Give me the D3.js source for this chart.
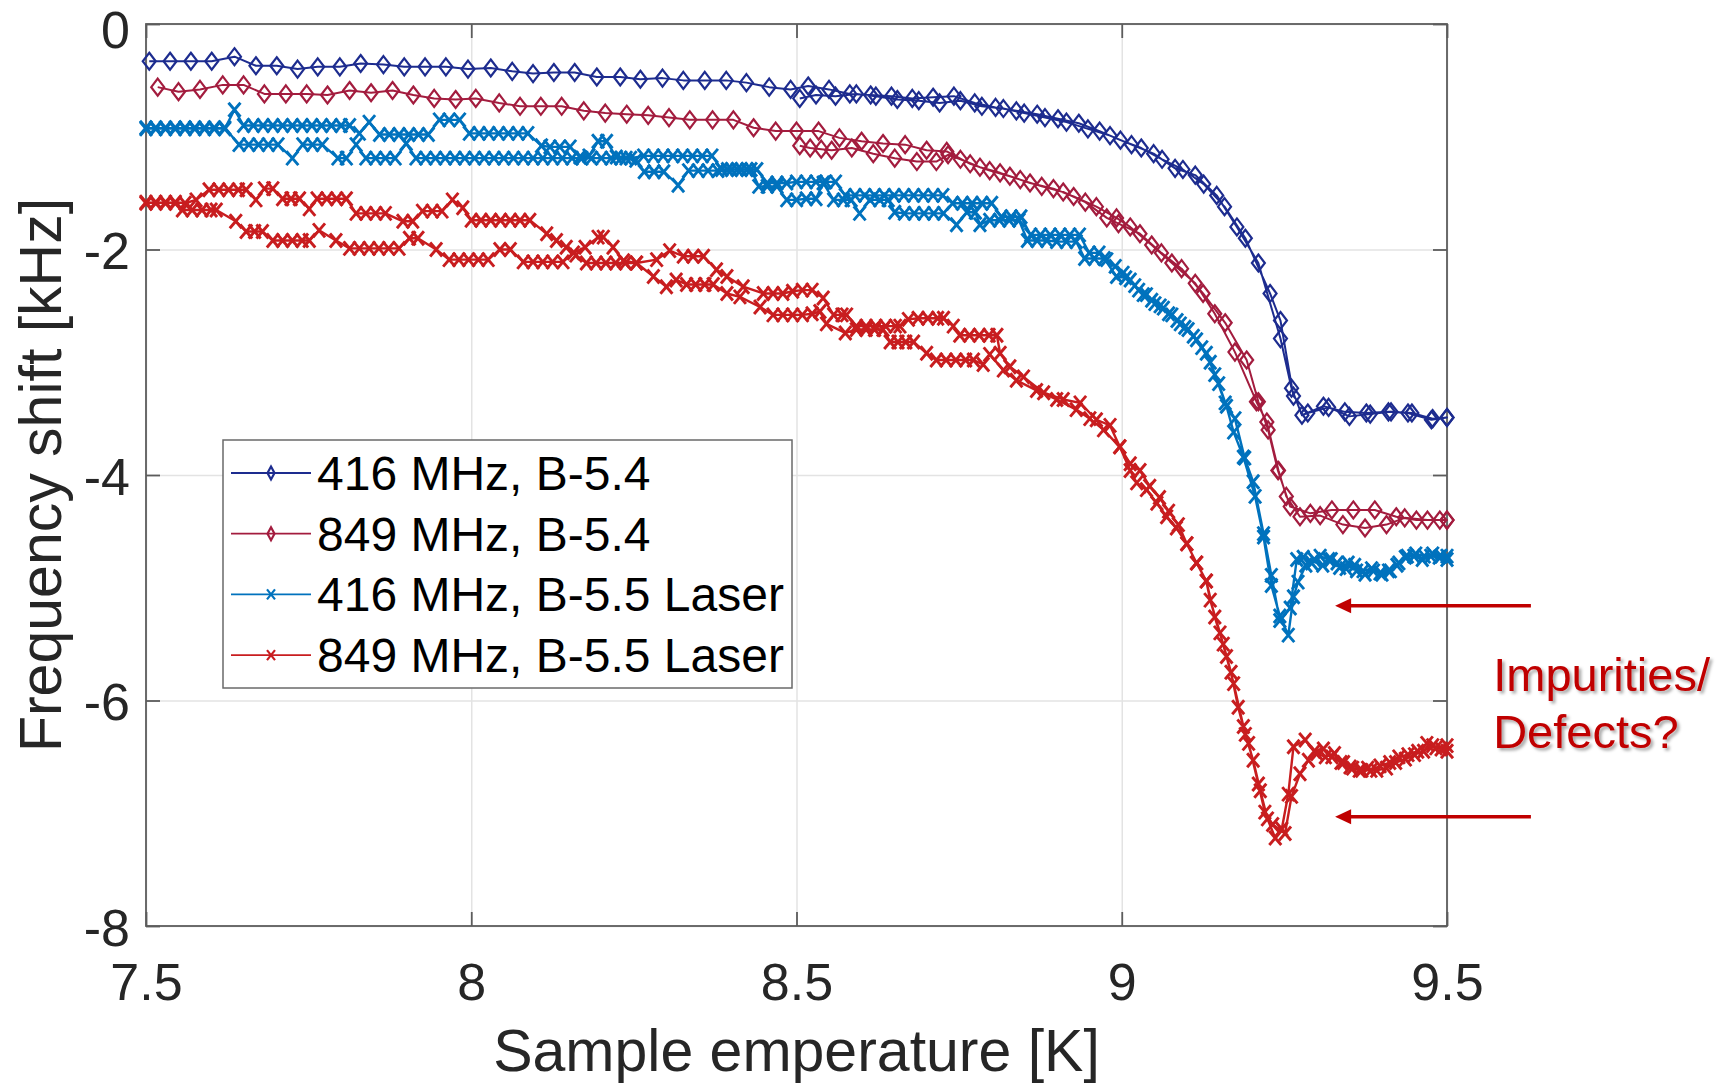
<!DOCTYPE html>
<html lang="en">
<head>
<meta charset="UTF-8" />
<title>Frequency shift</title>
<script src="https://d3js.org/d3.v7.min.js"></script>
<style>
  body { margin: 0; background: #fff; }
  text { font-family: "Liberation Sans", Arial, Helvetica, sans-serif; }
</style>
</head>
<body>
<div class="canvas"></div>
<script>
// ---- data: [temperature K, frequency shift kHz], two sweeps per sample ----
const b54_416_up = [[7.505,-0.33],[7.537,-0.33],[7.569,-0.33],[7.601,-0.33],[7.636,-0.29],[7.669,-0.37],[7.701,-0.37],[7.733,-0.40],[7.764,-0.38],[7.798,-0.38],[7.830,-0.35],[7.865,-0.36],[7.897,-0.38],[7.929,-0.38],[7.961,-0.38],[7.995,-0.40],[8.030,-0.39],[8.063,-0.42],[8.095,-0.44],[8.127,-0.43],[8.159,-0.43],[8.193,-0.47],[8.229,-0.47],[8.260,-0.49],[8.294,-0.48],[8.326,-0.50],[8.359,-0.50],[8.392,-0.50],[8.423,-0.52],[8.458,-0.56],[8.491,-0.58],[8.518,-0.55],[8.550,-0.58],[8.582,-0.62],[8.614,-0.63],[8.646,-0.64],[8.678,-0.66],[8.710,-0.65],[8.742,-0.64],[8.774,-0.70],[8.806,-0.74],[8.838,-0.77],[8.870,-0.80],[8.902,-0.84],[8.934,-0.88],[8.966,-0.95],[8.998,-1.03],[9.030,-1.10],[9.062,-1.20],[9.094,-1.29],[9.126,-1.42],[9.158,-1.62],[9.190,-1.90],[9.228,-2.39],[9.244,-2.63],[9.264,-3.30],[9.286,-3.45],[9.318,-3.40],[9.350,-3.48],[9.382,-3.46],[9.414,-3.44],[9.446,-3.45],[9.478,-3.50],[9.500,-3.49]];
const b54_416_down = [[9.500,-3.49],[9.476,-3.51],[9.440,-3.45],[9.410,-3.44],[9.376,-3.45],[9.343,-3.44],[9.310,-3.39],[9.277,-3.47],[9.261,-3.23],[9.244,-2.79],[9.210,-2.12],[9.177,-1.80],[9.146,-1.52],[9.113,-1.34],[9.082,-1.28],[9.049,-1.15],[9.015,-1.07],[8.982,-0.99],[8.948,-0.93],[8.915,-0.87],[8.882,-0.83],[8.850,-0.79],[8.818,-0.75],[8.785,-0.73],[8.752,-0.68],[8.720,-0.70],[8.688,-0.68],[8.655,-0.67],[8.622,-0.64],[8.592,-0.62],[8.560,-0.64],[8.530,-0.63],[8.505,-0.66]];

const b54_849_up = [[7.518,-0.56],[7.550,-0.60],[7.583,-0.58],[7.618,-0.54],[7.650,-0.54],[7.682,-0.62],[7.715,-0.62],[7.747,-0.62],[7.779,-0.63],[7.813,-0.59],[7.846,-0.61],[7.879,-0.59],[7.911,-0.63],[7.943,-0.66],[7.976,-0.67],[8.007,-0.66],[8.043,-0.70],[8.075,-0.73],[8.107,-0.73],[8.139,-0.73],[8.173,-0.77],[8.206,-0.79],[8.239,-0.80],[8.272,-0.81],[8.304,-0.83],[8.336,-0.85],[8.371,-0.85],[8.403,-0.85],[8.434,-0.92],[8.468,-0.95],[8.500,-0.95],[8.534,-0.95],[8.566,-1.01],[8.600,-1.04],[8.633,-1.06],[8.667,-1.07],[8.700,-1.12],[8.731,-1.13],[8.767,-1.24],[8.797,-1.30],[8.828,-1.35],[8.859,-1.41],[8.895,-1.46],[8.926,-1.53],[8.961,-1.62],[8.992,-1.72],[9.013,-1.80],[9.046,-1.96],[9.077,-2.12],[9.113,-2.30],[9.143,-2.57],[9.174,-2.91],[9.207,-3.35],[9.223,-3.53],[9.241,-3.96],[9.253,-4.19],[9.274,-4.37],[9.305,-4.36],[9.340,-4.44],[9.374,-4.47],[9.407,-4.44],[9.435,-4.38],[9.470,-4.40],[9.500,-4.40]];
const b54_849_down = [[9.500,-4.40],[9.489,-4.40],[9.453,-4.40],[9.422,-4.37],[9.389,-4.31],[9.356,-4.31],[9.323,-4.31],[9.290,-4.34],[9.259,-4.28],[9.240,-3.96],[9.225,-3.60],[9.210,-3.35],[9.192,-2.98],[9.159,-2.65],[9.125,-2.39],[9.092,-2.17],[9.061,-2.03],[9.028,-1.86],[8.995,-1.77],[8.977,-1.72],[8.944,-1.58],[8.910,-1.49],[8.877,-1.44],[8.844,-1.38],[8.813,-1.32],[8.782,-1.27],[8.752,-1.20],[8.733,-1.16],[8.715,-1.22],[8.685,-1.22],[8.651,-1.19],[8.618,-1.15],[8.585,-1.10],[8.554,-1.12],[8.538,-1.11],[8.521,-1.10],[8.505,-1.08]];

const b55_416_up = [[7.500,-0.93],[7.515,-0.92],[7.530,-0.93],[7.545,-0.92],[7.560,-0.93],[7.575,-0.92],[7.590,-0.93],[7.605,-0.92],[7.621,-0.93],[7.636,-0.76],[7.650,-0.90],[7.665,-0.90],[7.680,-0.90],[7.695,-0.90],[7.710,-0.90],[7.725,-0.90],[7.740,-0.90],[7.755,-0.90],[7.770,-0.90],[7.785,-0.90],[7.800,-0.90],[7.813,-0.90],[7.828,-0.97],[7.843,-0.87],[7.859,-0.98],[7.874,-0.98],[7.889,-0.98],[7.904,-0.98],[7.919,-0.98],[7.934,-0.98],[7.951,-0.85],[7.966,-0.85],[7.982,-0.85],[7.997,-0.97],[8.012,-0.97],[8.027,-0.97],[8.042,-0.97],[8.057,-0.97],[8.072,-0.97],[8.087,-0.97],[8.108,-1.08],[8.121,-1.09],[8.136,-1.09],[8.152,-1.09],[8.167,-1.18],[8.181,-1.17],[8.195,-1.04],[8.208,-1.04],[8.223,-1.18],[8.238,-1.19],[8.253,-1.21],[8.266,-1.31],[8.281,-1.31],[8.296,-1.31],[8.318,-1.43],[8.334,-1.30],[8.349,-1.30],[8.364,-1.30],[8.379,-1.30],[8.394,-1.29],[8.409,-1.29],[8.424,-1.29],[8.439,-1.29],[8.455,-1.41],[8.470,-1.41],[8.485,-1.41],[8.500,-1.40],[8.515,-1.40],[8.530,-1.40],[8.545,-1.40],[8.560,-1.40],[8.575,-1.52],[8.590,-1.52],[8.605,-1.52],[8.620,-1.52],[8.635,-1.52],[8.650,-1.52],[8.665,-1.52],[8.680,-1.52],[8.695,-1.52],[8.710,-1.52],[8.725,-1.52],[8.740,-1.59],[8.755,-1.59],[8.770,-1.59],[8.785,-1.59],[8.800,-1.59],[8.815,-1.71],[8.830,-1.71],[8.845,-1.71],[8.860,-1.87],[8.875,-1.87],[8.890,-1.87],[8.905,-1.87],[8.920,-1.87],[8.935,-1.87],[8.950,-2.03],[8.965,-2.03],[8.977,-2.09],[8.990,-2.15],[9.002,-2.21],[9.013,-2.27],[9.026,-2.36],[9.038,-2.40],[9.051,-2.48],[9.064,-2.52],[9.077,-2.58],[9.090,-2.66],[9.102,-2.71],[9.115,-2.80],[9.130,-2.92],[9.143,-3.11],[9.159,-3.36],[9.174,-3.50],[9.189,-3.85],[9.202,-4.06],[9.218,-4.52],[9.230,-4.89],[9.243,-5.29],[9.259,-5.18],[9.269,-4.75],[9.279,-4.73],[9.292,-4.78],[9.305,-4.72],[9.318,-4.75],[9.331,-4.78],[9.345,-4.83],[9.358,-4.80],[9.371,-4.85],[9.384,-4.83],[9.397,-4.87],[9.410,-4.85],[9.423,-4.80],[9.436,-4.73],[9.449,-4.72],[9.462,-4.75],[9.475,-4.72],[9.488,-4.73],[9.500,-4.72]];
const b55_416_down = [[9.500,-4.75],[9.491,-4.72],[9.478,-4.70],[9.465,-4.72],[9.452,-4.70],[9.439,-4.72],[9.426,-4.78],[9.413,-4.85],[9.400,-4.88],[9.387,-4.85],[9.374,-4.88],[9.361,-4.85],[9.348,-4.78],[9.335,-4.82],[9.322,-4.75],[9.309,-4.80],[9.296,-4.75],[9.283,-4.80],[9.271,-4.95],[9.264,-5.08],[9.256,-5.42],[9.243,-5.25],[9.230,-4.98],[9.218,-4.55],[9.205,-4.19],[9.187,-3.84],[9.172,-3.62],[9.161,-3.39],[9.149,-3.19],[9.136,-3.00],[9.123,-2.87],[9.110,-2.77],[9.097,-2.69],[9.085,-2.63],[9.072,-2.57],[9.059,-2.50],[9.046,-2.45],[9.033,-2.40],[9.020,-2.32],[9.006,-2.25],[8.992,-2.24],[8.973,-2.08],[8.958,-2.08],[8.943,-2.08],[8.930,-1.93],[8.915,-1.93],[8.900,-1.93],[8.885,-1.92],[8.870,-1.92],[8.855,-1.92],[8.842,-1.74],[8.827,-1.74],[8.812,-1.74],[8.797,-1.74],[8.782,-1.78],[8.775,-1.67],[8.762,-1.67],[8.746,-1.78],[8.726,-1.68],[8.711,-1.68],[8.696,-1.68],[8.681,-1.68],[8.666,-1.68],[8.651,-1.67],[8.641,-1.56],[8.628,-1.56],[8.613,-1.56],[8.597,-1.68],[8.584,-1.56],[8.572,-1.56],[8.557,-1.56],[8.541,-1.41],[8.530,-1.55],[8.515,-1.55],[8.500,-1.56],[8.485,-1.56],[8.470,-1.44],[8.455,-1.44],[8.442,-1.44],[8.430,-1.29],[8.415,-1.29],[8.400,-1.29],[8.385,-1.29],[8.370,-1.17],[8.355,-1.17],[8.340,-1.17],[8.325,-1.17],[8.310,-1.17],[8.295,-1.17],[8.280,-1.17],[8.265,-1.17],[8.245,-1.19],[8.230,-1.19],[8.215,-1.19],[8.200,-1.19],[8.185,-1.19],[8.170,-1.19],[8.155,-1.19],[8.140,-1.19],[8.125,-1.19],[8.110,-1.19],[8.095,-1.19],[8.080,-1.19],[8.065,-1.19],[8.050,-1.19],[8.035,-1.19],[8.020,-1.19],[8.005,-1.19],[7.990,-1.19],[7.975,-1.19],[7.960,-1.19],[7.945,-1.19],[7.930,-1.19],[7.915,-1.19],[7.900,-1.06],[7.883,-1.19],[7.868,-1.19],[7.853,-1.19],[7.838,-1.19],[7.823,-1.07],[7.808,-1.19],[7.795,-1.19],[7.771,-1.07],[7.756,-1.07],[7.741,-1.07],[7.725,-1.19],[7.703,-1.07],[7.688,-1.07],[7.673,-1.07],[7.658,-1.07],[7.643,-1.07],[7.621,-0.92],[7.605,-0.93],[7.590,-0.92],[7.575,-0.93],[7.560,-0.92],[7.545,-0.93],[7.530,-0.92],[7.515,-0.93],[7.500,-0.92]];

const b55_849_up = [[7.500,-1.59],[7.515,-1.58],[7.530,-1.59],[7.545,-1.58],[7.560,-1.59],[7.577,-1.56],[7.597,-1.47],[7.612,-1.47],[7.627,-1.47],[7.642,-1.47],[7.654,-1.47],[7.669,-1.56],[7.682,-1.46],[7.695,-1.46],[7.710,-1.55],[7.723,-1.55],[7.736,-1.55],[7.751,-1.64],[7.763,-1.55],[7.778,-1.55],[7.793,-1.55],[7.808,-1.55],[7.823,-1.68],[7.838,-1.68],[7.853,-1.68],[7.868,-1.68],[7.895,-1.75],[7.910,-1.75],[7.925,-1.66],[7.940,-1.66],[7.955,-1.66],[7.971,-1.56],[7.987,-1.63],[8.000,-1.74],[8.015,-1.74],[8.030,-1.74],[8.045,-1.74],[8.060,-1.74],[8.075,-1.74],[8.090,-1.74],[8.116,-1.86],[8.131,-1.92],[8.146,-1.98],[8.161,-2.05],[8.177,-2.12],[8.192,-2.12],[8.207,-2.12],[8.222,-2.12],[8.237,-2.12],[8.254,-2.12],[8.280,-2.24],[8.300,-2.33],[8.315,-2.27],[8.331,-2.31],[8.345,-2.31],[8.359,-2.31],[8.372,-2.31],[8.393,-2.39],[8.413,-2.42],[8.444,-2.51],[8.464,-2.58],[8.479,-2.58],[8.494,-2.58],[8.509,-2.58],[8.524,-2.57],[8.536,-2.55],[8.546,-2.66],[8.575,-2.74],[8.592,-2.71],[8.607,-2.71],[8.620,-2.71],[8.633,-2.71],[8.644,-2.82],[8.656,-2.82],[8.668,-2.82],[8.680,-2.82],[8.700,-2.92],[8.715,-2.98],[8.730,-2.98],[8.745,-2.98],[8.760,-2.98],[8.772,-2.98],[8.787,-3.02],[8.797,-2.93],[8.818,-3.07],[8.838,-3.16],[8.869,-3.25],[8.900,-3.33],[8.930,-3.42],[8.951,-3.50],[8.972,-3.60],[8.997,-3.75],[9.013,-3.90],[9.028,-3.96],[9.043,-4.10],[9.058,-4.20],[9.072,-4.32],[9.087,-4.44],[9.100,-4.61],[9.115,-4.78],[9.130,-4.94],[9.143,-5.26],[9.156,-5.50],[9.168,-5.75],[9.179,-6.06],[9.190,-6.30],[9.202,-6.53],[9.213,-6.80],[9.224,-7.05],[9.236,-7.22],[9.246,-7.14],[9.256,-6.83],[9.264,-6.41],[9.282,-6.35],[9.296,-6.45],[9.310,-6.43],[9.323,-6.50],[9.337,-6.55],[9.351,-6.59],[9.365,-6.62],[9.378,-6.60],[9.392,-6.62],[9.407,-6.60],[9.421,-6.55],[9.436,-6.52],[9.450,-6.48],[9.464,-6.45],[9.478,-6.40],[9.491,-6.43],[9.500,-6.45]];
const b55_849_down = [[9.500,-6.40],[9.483,-6.42],[9.469,-6.38],[9.455,-6.45],[9.440,-6.48],[9.426,-6.50],[9.412,-6.55],[9.397,-6.58],[9.383,-6.62],[9.369,-6.62],[9.355,-6.60],[9.341,-6.55],[9.327,-6.47],[9.313,-6.50],[9.300,-6.47],[9.287,-6.53],[9.274,-6.65],[9.261,-6.85],[9.251,-7.18],[9.232,-7.10],[9.220,-6.99],[9.210,-6.74],[9.195,-6.38],[9.187,-6.23],[9.172,-5.85],[9.161,-5.61],[9.151,-5.40],[9.136,-5.11],[9.130,-4.94],[9.115,-4.78],[9.100,-4.61],[9.084,-4.47],[9.069,-4.37],[9.054,-4.25],[9.038,-4.13],[9.023,-4.07],[9.013,-3.96],[8.997,-3.75],[8.982,-3.56],[8.961,-3.51],[8.936,-3.36],[8.910,-3.33],[8.880,-3.27],[8.849,-3.13],[8.828,-3.04],[8.813,-2.92],[8.808,-2.76],[8.796,-2.76],[8.781,-2.76],[8.766,-2.76],[8.751,-2.76],[8.741,-2.68],[8.726,-2.61],[8.717,-2.61],[8.702,-2.61],[8.687,-2.61],[8.672,-2.62],[8.659,-2.68],[8.652,-2.68],[8.637,-2.68],[8.622,-2.68],[8.607,-2.68],[8.592,-2.68],[8.577,-2.58],[8.570,-2.58],[8.557,-2.58],[8.541,-2.43],[8.524,-2.36],[8.509,-2.36],[8.494,-2.37],[8.479,-2.39],[8.464,-2.39],[8.449,-2.39],[8.418,-2.33],[8.393,-2.24],[8.377,-2.18],[8.357,-2.06],[8.341,-2.06],[8.326,-2.06],[8.305,-2.01],[8.285,-2.09],[8.254,-2.12],[8.234,-2.10],[8.218,-1.98],[8.203,-1.89],[8.195,-1.89],[8.175,-1.98],[8.157,-2.03],[8.141,-2.11],[8.125,-2.11],[8.110,-2.11],[8.095,-2.11],[8.080,-2.11],[8.060,-2.00],[8.044,-2.00],[8.026,-2.09],[8.011,-2.09],[7.996,-2.09],[7.981,-2.09],[7.966,-2.09],[7.946,-2.00],[7.918,-1.90],[7.905,-1.90],[7.889,-1.99],[7.873,-1.99],[7.858,-1.99],[7.843,-1.99],[7.828,-1.99],[7.813,-1.99],[7.792,-1.92],[7.766,-1.83],[7.751,-1.92],[7.740,-1.92],[7.725,-1.92],[7.710,-1.92],[7.695,-1.92],[7.679,-1.84],[7.667,-1.84],[7.654,-1.84],[7.638,-1.75],[7.608,-1.65],[7.600,-1.65],[7.586,-1.65],[7.571,-1.65],[7.556,-1.65],[7.545,-1.59],[7.530,-1.58],[7.515,-1.59],[7.500,-1.58]];

const seriesNames = ["416 MHz, B-5.4", "849 MHz, B-5.4", "416 MHz, B-5.5 Laser", "849 MHz, B-5.5 Laser"];
const seriesColors = ["#1d2c8f", "#a31c3e", "#0072bd", "#c81d1f"];
const seriesMarkers = ["diamond", "diamond", "x", "x"];
const seriesPoints = [
  b54_416_up.concat(b54_416_down),
  b54_849_up.concat(b54_849_down),
  b55_416_up.concat(b55_416_down),
  b55_849_up.concat(b55_849_down)
];
const xTicks = [7.5, 8, 8.5, 9, 9.5];
const yTicks = [0, -2, -4, -6, -8];
const noteLines = ["Impurities/", "Defects?"];

// ---- layout ----
const 전체넓이 = 1723, 전체높이 = 1084;
const margin = { top: 24, right: 276, bottom: 158, left: 146 };
const pw = 전체넓이 - margin.left - margin.right;
const ph = 전체높이 - margin.top - margin.bottom;

const svg = d3.select(".canvas").append("svg")
  .attr("width", 전체넓이).attr("height", 전체높이);

const defs = svg.append("defs");
const shadow = defs.append("filter").attr("id", "shadow")
  .attr("x", "-10%").attr("y", "-10%").attr("width", "130%").attr("height", "140%");
shadow.append("feDropShadow").attr("dx", 2.5).attr("dy", 2.5)
  .attr("stdDeviation", 1.5).attr("flood-color", "#000").attr("flood-opacity", 0.35);

const g = svg.append("g").attr("transform", `translate(${margin.left},${margin.top})`);

const x = d3.scaleLinear().domain([7.5, 9.5]).range([0, pw]);
const y = d3.scaleLinear().domain([-8, 0]).range([ph, 0]);

// grid
g.append("g").attr("class", "grid")
  .attr("transform", `translate(0,${ph})`)
  .call(d3.axisBottom(x).tickValues(xTicks).tickSize(-ph).tickFormat(""))
  .call(s => s.select(".domain").remove())
  .selectAll("line").attr("stroke", "#e3e3e3").attr("stroke-width", 1.5);
g.append("g").attr("class", "grid")
  .call(d3.axisLeft(y).tickValues(yTicks).tickSize(-pw).tickFormat(""))
  .call(s => s.select(".domain").remove())
  .selectAll("line").attr("stroke", "#e3e3e3").attr("stroke-width", 1.5);

// axes (ticks inside, MATLAB style)
const axisCol = "#5c5c5c", labelCol = "#262626";
function styleAxis(s) {
  s.select(".domain").remove();
  s.selectAll(".tick line").attr("stroke", axisCol).attr("stroke-width", 1.8);
  s.selectAll("text").attr("fill", labelCol).style("font-size", "52px")
    .style("font-family", "'Liberation Sans', Arial, sans-serif");
}
g.append("g").attr("transform", `translate(0,${ph})`)
  .call(d3.axisBottom(x).tickValues(xTicks).tickSize(-14).tickSizeOuter(0).tickPadding(37).tickFormat(d => String(d)))
  .call(styleAxis);
g.append("g")
  .call(d3.axisLeft(y).tickValues(yTicks).tickSize(-14).tickSizeOuter(0).tickPadding(16).tickFormat(d => String(d)))
  .call(styleAxis)
  // the top label sits against the window edge; nudge it down just enough to stay inside
  .call(s => s.selectAll("text").attr("dy", d => d === 0 ? "0.45em" : "0.37em"));
g.append("g")
  .call(d3.axisTop(x).tickValues(xTicks).tickSize(-14).tickSizeOuter(0).tickFormat(""))
  .call(styleAxis);
g.append("g").attr("transform", `translate(${pw},0)`)
  .call(d3.axisRight(y).tickValues(yTicks).tickSize(-14).tickSizeOuter(0).tickFormat(""))
  .call(styleAxis);

g.append("rect").attr("width", pw).attr("height", ph)
  .attr("fill", "none").attr("stroke", axisCol).attr("stroke-width", 1.8);

// markers
function diamondPath(cx, cy, hw, hh) {
  return `M${cx},${cy - hh}L${cx + hw},${cy}L${cx},${cy + hh}L${cx - hw},${cy}Z`;
}
function xPath(cx, cy, hw, hh) {
  return `M${cx - hw},${cy - hh}L${cx + hw},${cy + hh}M${cx - hw},${cy + hh}L${cx + hw},${cy - hh}`;
}
function markerPath(type, cx, cy) {
  return type === "diamond" ? diamondPath(cx, cy, 6.5, 8.5) : xPath(cx, cy, 6, 7);
}

const line = d3.line().x(d => x(d[0])).y(d => y(d[1]));

seriesPoints.forEach((pts, i) => {
  const sg = g.append("g");
  const isX = seriesMarkers[i] === "x";
  sg.append("path").datum(pts).attr("d", line)
    .attr("fill", "none").attr("stroke", seriesColors[i]).attr("stroke-width", isX ? 2.4 : 2)
    .attr("stroke-linejoin", "round");
  sg.selectAll("path.mk").data(pts).join("path").attr("class", "mk")
    .attr("d", d => markerPath(seriesMarkers[i], x(d[0]), y(d[1])))
    .attr("fill", "none").attr("stroke", seriesColors[i])
    .attr("stroke-width", isX ? 2.9 : 2.2);
});

// legend
const legend = g.append("g").attr("transform", "translate(77,416)");
legend.append("rect").attr("width", 569).attr("height", 248)
  .attr("fill", "#fff").attr("stroke", "#6a6a6a").attr("stroke-width", 1.5);
const rows = legend.selectAll("g.row").data(seriesNames).join("g").attr("class", "row")
  .attr("transform", (d, i) => `translate(0,${33 + i * 60.7})`);
rows.append("line").attr("x1", 8).attr("x2", 88)
  .attr("stroke", (d, i) => seriesColors[i]).attr("stroke-width", 1.8);
rows.append("path")
  .attr("d", (d, i) => seriesMarkers[i] === "diamond" ? diamondPath(48, 0, 3.5, 6.5) : xPath(48, 0, 4, 5))
  .attr("fill", "none").attr("stroke", (d, i) => seriesColors[i]).attr("stroke-width", 2.2);
rows.append("text").attr("x", 94).attr("y", 17)
  .style("font-size", "48px").attr("fill", "#000").text(d => d);

// axis labels
svg.append("text").attr("x", margin.left + pw / 2).attr("y", 1071)
  .attr("text-anchor", "middle").style("font-size", "59px").attr("fill", labelCol)
  .text("Sample emperature [K]");
svg.append("text").attr("transform", `translate(61,${margin.top + ph / 2}) rotate(-90)`)
  .attr("text-anchor", "middle").style("font-size", "59px").attr("fill", labelCol)
  .text("Frequency shift [kHz]");

// annotation: arrows toward the dips and the note
const noteCol = "#c00000";
const arrowTips = [[9.328, -5.16], [9.328, -7.03]];
arrowTips.forEach(([t, f]) => {
  const tx = x(t), ty = y(f);
  g.append("line").attr("x1", tx + 12).attr("x2", x(9.629)).attr("y1", ty).attr("y2", ty)
    .attr("stroke", noteCol).attr("stroke-width", 3.5);
  g.append("path").attr("d", `M${tx},${ty}L${tx + 16},${ty - 7.5}L${tx + 16},${ty + 7.5}Z`)
    .attr("fill", noteCol);
});
g.append("g").attr("filter", "url(#shadow)")
  .selectAll("text").data(noteLines).join("text")
  .attr("x", x(9.571)).attr("y", (d, i) => y(-5.92) + i * 57)
  .style("font-size", "47px").attr("fill", noteCol).text(d => d);
</script>
</body>
</html>
